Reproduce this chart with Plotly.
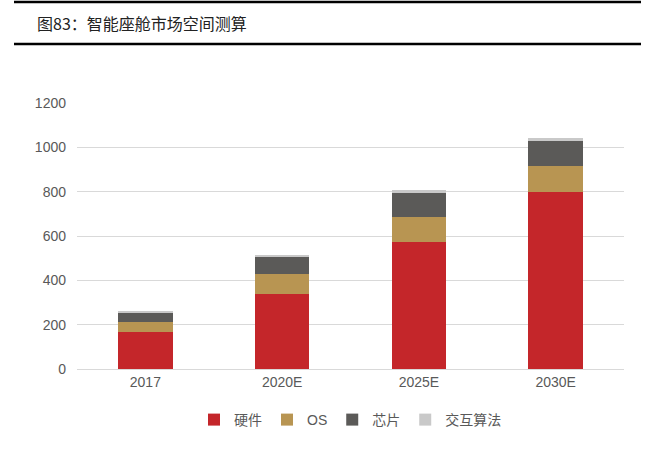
import plotly.graph_objects as go

categories = ["2017", "2020E", "2025E", "2030E"]
hardware = [168, 337, 573, 798]
os_vals = [43, 90, 113, 116]
chips = [43, 81, 106, 114]
interaction = [4, 6, 14, 12]
y_ticks = [0, 200, 400, 600, 800, 1000, 1200]

series = [
    ("硬件", hardware, "#C4262A"),
    ("OS", os_vals, "#B89552"),
    ("芯片", chips, "#5B5A58"),
    ("交互算法", interaction, "#C9C9C9"),
]

fig = go.Figure()
for name, vals, color in series:
    fig.add_trace(go.Bar(x=categories, y=vals, name=name, marker_color=color,
                         marker_line_width=0, width=0.4))

font_main = "Liberation Sans, Arial, Noto Sans CJK SC, sans-serif"
font_title = "Noto Sans CJK SC, sans-serif"

W, H = 650, 454
L, R, T, B = 77, 26, 103, 85
PW, PH = W - L - R, H - T - B


def px_to_paper_x(x):
    return (x - L) / PW


def px_to_paper_y(y):
    return (H - B - y) / PH


fig.update_layout(
    barmode="stack",
    width=W, height=H,
    margin=dict(l=L, r=R, t=T, b=B),
    paper_bgcolor="white", plot_bgcolor="white",
    font=dict(family=font_main, size=13, color="#595959"),
    showlegend=True,
    legend=dict(orientation="h", x=0.5, xanchor="center", y=px_to_paper_y(404), yanchor="top",
                font=dict(family=font_main, size=14, color="#595959"), traceorder="normal",
                itemwidth=30),
    xaxis=dict(showgrid=False, showline=True, linecolor="#D9D9D9", linewidth=1,
               ticks="", tickfont=dict(size=14, color="#595959")),
    yaxis=dict(range=[0, 1200], tickvals=y_ticks, showgrid=True, gridcolor="#D9D9D9",
               gridwidth=1, zeroline=False, showline=False,
               tickfont=dict(size=14, color="#595959"), ticklabelstandoff=10),
    shapes=[
        dict(type="line", xref="paper", yref="paper", x0=px_to_paper_x(14), x1=px_to_paper_x(641),
             y0=px_to_paper_y(2), y1=px_to_paper_y(2),
             line=dict(color="black", width=2.5)),
        dict(type="line", xref="paper", yref="paper", x0=px_to_paper_x(14), x1=px_to_paper_x(641),
             y0=px_to_paper_y(44), y1=px_to_paper_y(44),
             line=dict(color="black", width=2.5)),
    ],
    annotations=[
        dict(text="图83：智能座舱市场空间测算", xref="paper", yref="paper",
             x=px_to_paper_x(35), y=px_to_paper_y(23), xanchor="left", yanchor="middle",
             showarrow=False, font=dict(family=font_title, size=16, color="#222222")),
    ],
)

fig.write_html("out.html", config={"displayModeBar": False},
               post_script="document.body.style.margin='0';")
